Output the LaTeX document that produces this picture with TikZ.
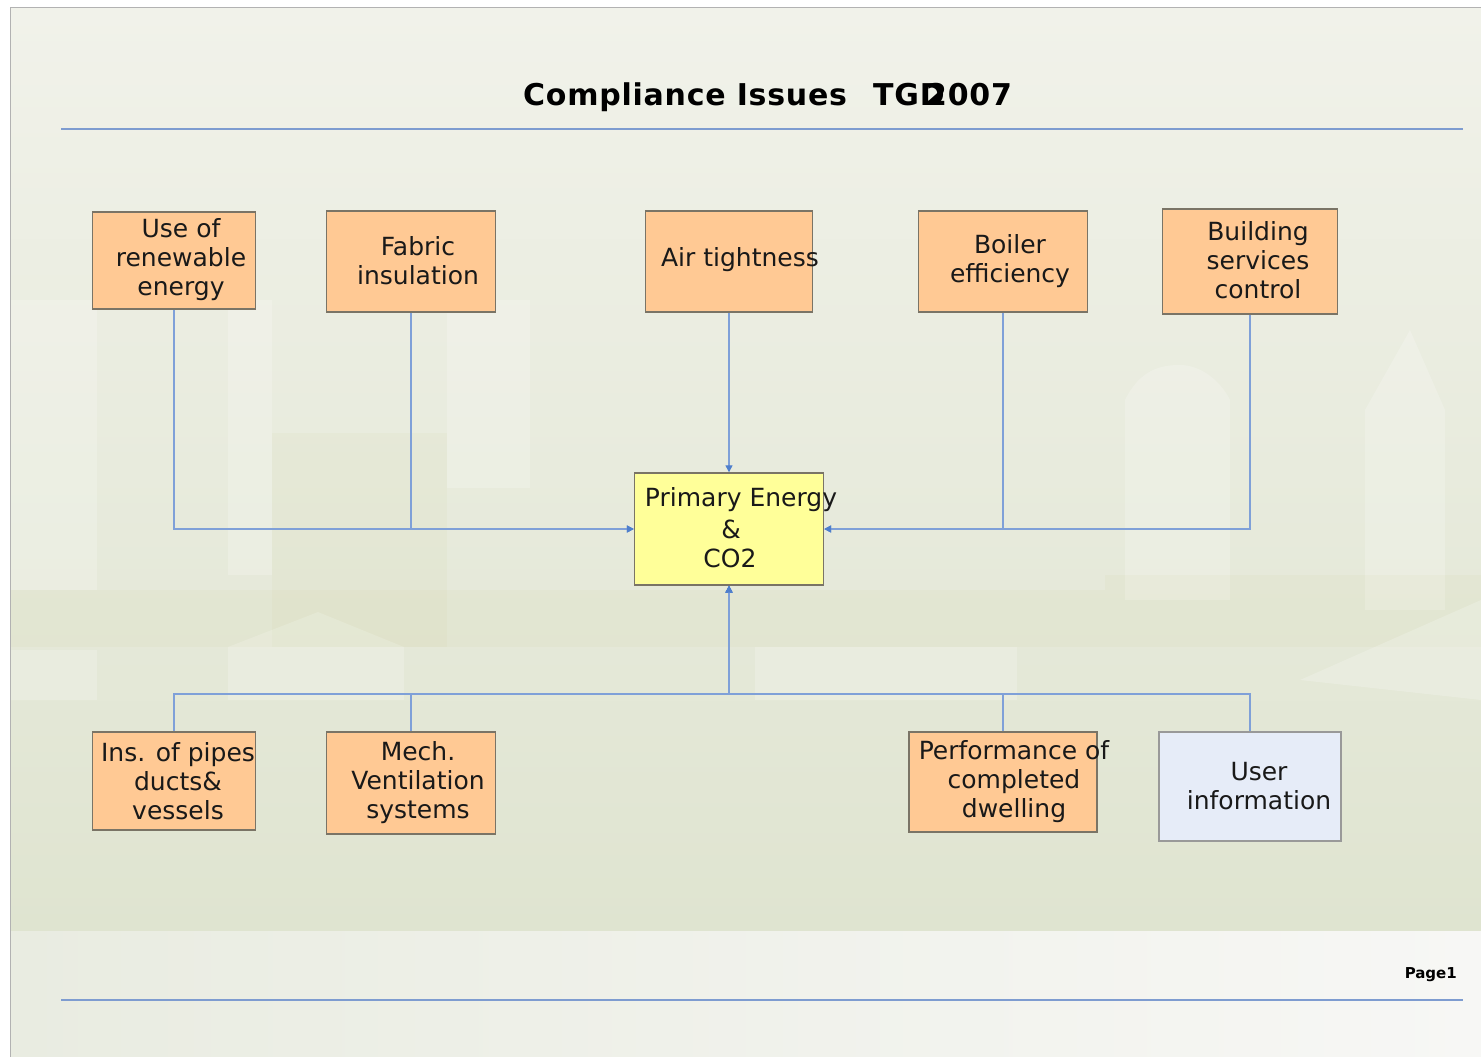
\documentclass[tikz,border=0pt]{standalone}
\usepackage{fontspec}
\setmainfont{DejaVu Sans}
\newfontfamily\titlefont[LetterSpace=2.5]{DejaVu Sans}
\usetikzlibrary{arrows.meta}
\definecolor{bgtop}{HTML}{F1F2EA}
\definecolor{bgmid}{HTML}{DFE4D0}
\definecolor{bandl}{HTML}{E9ECE1}
\definecolor{bandr}{HTML}{F7F7F5}
\definecolor{orangebox}{HTML}{FFC994}
\definecolor{yellowbox}{HTML}{FFFF99}
\definecolor{bluebox}{HTML}{E6ECF8}
\definecolor{boxline}{HTML}{7A7466}
\definecolor{conn}{HTML}{7FA0D8}
\definecolor{tip}{HTML}{4F7FCC}
\definecolor{rule}{HTML}{7E9CD0}
\tikzset{
  boxbase/.style={draw=boxline, line width=1.4pt, inner sep=0pt},
  obox/.style={boxbase, fill=orangebox},
  ybox/.style={boxbase, fill=yellowbox},
  ubox/.style={boxbase, fill=bluebox, draw=gray!80},
  btext/.style={align=center, inner sep=0pt, font=\fontsize{25}{29}\selectfont, text=black!90},
  ttext/.style={anchor=base west, inner sep=0pt, font=\titlefont\bfseries\fontsize{30}{36}\selectfont},
  conline/.style={draw=conn, line width=1.3pt},
  conarrow/.style={conline, -{Triangle[length=7pt,width=7pt,fill=tip,color=tip]}},
  faint/.style={fill=white, opacity=0.2},
  dark/.style={fill=olive!40!bgmid, opacity=0.06}
}
\begin{document}
\begin{tikzpicture}[x=1pt,y=-1pt]
\useasboundingbox (0,0) rectangle (1481,1057);
% page background
\fill[white] (0,0) rectangle (1481,1057);
\shade[top color=bgtop, bottom color=bgmid] (10,8) rectangle (1481,931);
\shade[left color=bandl, right color=bandr] (10,931) rectangle (1481,1057);
% faint skyline
\fill[faint] (10,300) rectangle (97,590);
\fill[faint] (228,300) rectangle (272,575);
\fill[dark] (272,433) rectangle (447,647);
\fill[faint] (447,300) rectangle (530,488);
\fill[faint] (228,700) -- (228,647) -- (318,612) -- (404,647) -- (404,700) -- cycle;
\fill[faint] (10,650) rectangle (97,700);
\fill[faint] (755,647) rectangle (1017,700);
\fill[faint] (1125,440) -- (1125,400) .. controls (1140,370) and (1160,365) .. (1180,365) .. controls (1200,365) and (1220,380) .. (1230,400) -- (1230,600) -- (1125,600) -- cycle;
\fill[faint] (1365,610) -- (1365,410) -- (1410,330) -- (1445,410) -- (1445,610) -- cycle;
\fill[dark] (1105,575) rectangle (1481,647);
\fill[dark] (10,590) rectangle (1105,647);
\fill[faint] (1300,680) -- (1481,600) -- (1481,700) -- cycle;
% frame
\draw[gray!60, line width=1pt] (10,1057) -- (10,8) -- (1481,8);
% rules
\draw[rule, line width=2pt] (61,129) -- (1463,129);
\draw[rule, line width=2pt] (61,1000) -- (1463,1000);
% title
\node[ttext] (title) at (523,106) {Compliance Issues};
\node[ttext] (tgd) at (873,106) {TGD};
\node[ttext] (year) at (926,106) {2007};
\node[anchor=base east, inner sep=0pt, font=\bfseries\fontsize{15}{18}\selectfont] (page) at (1457,978) {Page1};
% boxes
\node[obox, minimum width=163pt, minimum height=97pt] (ren) at (174,260.5) {};
\node[obox, minimum width=169pt, minimum height=101pt] (fab) at (411,261.5) {};
\node[obox, minimum width=167pt, minimum height=101pt] (air) at (729,261.5) {};
\node[obox, minimum width=169pt, minimum height=101pt] (boi) at (1003,261.5) {};
\node[obox, minimum width=175pt, minimum height=105pt] (bui) at (1250,261.5) {};
\node[ybox, minimum width=189pt, minimum height=112pt] (pri) at (729,529) {};
\node[obox, minimum width=163pt, minimum height=98pt] (ins) at (174,781) {};
\node[obox, minimum width=169pt, minimum height=102pt] (mec) at (411,783) {};
\node[obox, minimum width=188pt, minimum height=100pt] (per) at (1003,782) {};
\node[ubox, minimum width=182pt, minimum height=109pt] (usr) at (1250,786.5) {};
% texts
\node[btext] (renT) at (181,260) {Use of\\renewable\\energy};
\node[btext] (fabT) at (418,261) {Fabric\\insulation};
\node[btext] (airT) at (740,260) {Air tightness};
\node[btext] (boiT) at (1010,261) {Boiler\\efficiency};
\node[btext] (buiT) at (1258,260) {Building\\services\\control};
\node[btext] (priT1) at (741,500) {Primary Energy};
\node[btext] (priT2) at (731,529) {\&};
\node[btext] (priT3) at (730,558) {CO2};
\node[btext] (insT) at (178,781) {Ins. of pipes\\ducts\&\\vessels};
\node[btext] (mecT) at (418,783) {Mech.\\Ventilation\\systems};
\node[btext] (perT) at (1014,782) {Performance of\\completed\\dwelling};
\node[btext] (usrT) at (1259,786) {User\\information};
% connectors
\coordinate (jb) at (729,694);
\draw[conarrow] (ren.south) |- (pri.west);
\draw[conarrow] (fab.south) |- (pri.west);
\draw[conarrow] (air.south) -- (pri.north);
\draw[conarrow] (boi.south) |- (pri.east);
\draw[conarrow] (bui.south) |- (pri.east);
\draw[conarrow] (ins.north) |- (jb) -- (pri.south);
\draw[conarrow] (mec.north) |- (jb) -- (pri.south);
\draw[conarrow] (per.north) |- (jb) -- (pri.south);
\draw[conarrow] (usr.north) |- (jb) -- (pri.south);
\end{tikzpicture}
\end{document}
